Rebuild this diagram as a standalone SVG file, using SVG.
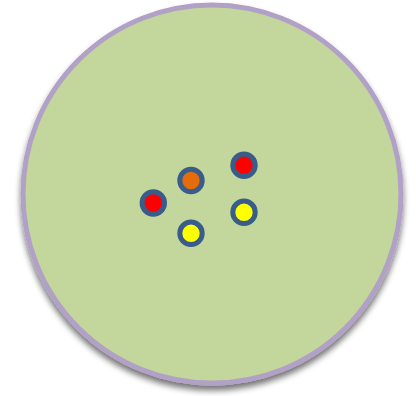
<svg xmlns="http://www.w3.org/2000/svg" width="416" height="396" viewBox="0 0 416 396">
  <defs>
    <filter id="shadow" x="-10%" y="-10%" width="120%" height="125%">
      <feGaussianBlur in="SourceAlpha" stdDeviation="3"/>
      <feOffset dx="0" dy="5" result="b"/>
      <feComponentTransfer><feFuncA type="linear" slope="0.55"/></feComponentTransfer>
      <feMerge><feMergeNode/><feMergeNode in="SourceGraphic"/></feMerge>
    </filter>
  </defs>
  <style>
    .dot { stroke: #385d8a; stroke-width: 5; }
    .red { fill: #ff0000; }
    .orange { fill: #e46c0a; }
    .yellow { fill: #ffff00; }
  </style>
  <g id="outer">
    <circle cx="212" cy="194" r="189" fill="#c3d69b" stroke="#b2a1c7" stroke-width="5" filter="url(#shadow)"/>
  </g>
  <g id="dot-orange"><circle class="dot orange" cx="191" cy="180.5" r="11.2"/></g>
  <g id="dot-red-1"><circle class="dot red" cx="244" cy="165.3" r="11.2"/></g>
  <g id="dot-red-2"><circle class="dot red" cx="153.3" cy="203" r="11.2"/></g>
  <g id="dot-yellow-1"><circle class="dot yellow" cx="244" cy="212.3" r="11.2"/></g>
  <g id="dot-yellow-2"><circle class="dot yellow" cx="191" cy="233.3" r="11.2"/></g>
  <g id="connectors"/>
</svg>
